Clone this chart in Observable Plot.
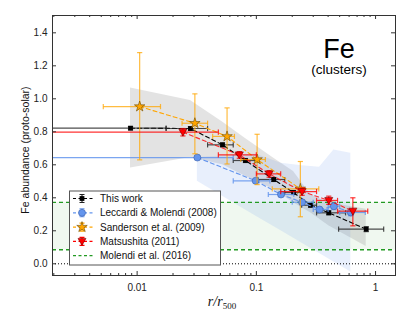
<!DOCTYPE html>
<html><head><meta charset="utf-8">
<script src="https://cdn.jsdelivr.net/npm/d3@7"></script>
<script src="https://cdn.jsdelivr.net/npm/@observablehq/plot@0.6"></script>
<style>body{margin:0;background:#fff;} svg{display:block;}</style>
</head><body><div id="chart"></div>
<script>
// ---- This work ----
const twR    = [0.0088, 0.028, 0.052, 0.081, 0.14, 0.205, 0.285, 0.405, 0.835];
const twFe   = [0.822, 0.820, 0.721, 0.626, 0.511, 0.432, 0.355, 0.309, 0.210];
const twRlo  = [0.0001, 0.0175, 0.039, 0.064, 0.103, 0.173, 0.24, 0.32, 0.49];
const twRhi  = [0.0175, 0.039, 0.064, 0.103, 0.173, 0.24, 0.32, 0.56, 1.17];
const twErr  = [0.01, 0.01, 0.012, 0.012, 0.012, 0.012, 0.012, 0.012, 0.015];
const twBandHi = [1.065, 0.99, 0.86, 0.76, 0.64, 0.56, 0.42, 0.37, 0.33];
const twBandLo = [0.58, 0.645, 0.60, 0.53, 0.45, 0.37, 0.31, 0.23, 0.105];
// ---- Leccardi & Molendi (2008) ----
const lmR   = [0.032, 0.0986, 0.161, 0.242, 0.339, 0.447, 0.62];
const lmFe  = [0.644, 0.503, 0.420, 0.373, 0.329, 0.349, 0.311];
const lmRlo = [0.0001, 0.064, 0.126, 0.20, 0.30, 0.40, 0.50];
const lmRhi = [0.064, 0.13, 0.206, 0.30, 0.40, 0.50, 0.82];
const lmErr = [0.01, 0.012, 0.012, 0.015, 0.015, 0.02, 0.02];
const lmBandHi = [0.645, 0.665, 0.61, 0.595, 0.585, 0.69, 0.67];
const lmBandLo = [0.50, 0.29, 0.20, 0.125, 0.062, 0.011, -0.05];
// ---- Sanderson et al. (2009) ----
const saR   = [0.0105, 0.0305, 0.0568, 0.1015, 0.234];
const saFe  = [0.953, 0.852, 0.772, 0.632, 0.454];
const saRlo = [0.0052, 0.0238, 0.043, 0.074, 0.136];
const saRhi = [0.0157, 0.039, 0.0655, 0.119, 0.334];
const saFelo = [0.63, 0.667, 0.605, 0.48, 0.285];
const saFehi = [1.28, 1.03, 0.945, 0.785, 0.62];
// ---- Matsushita (2011) ----
const maR   = [0.0242, 0.072, 0.128, 0.242, 0.405, 0.645];
const maFe  = [0.798, 0.660, 0.545, 0.438, 0.384, 0.319];
const maRlo = [0.0001, 0.048, 0.10, 0.16, 0.32, 0.48];
const maRhi = [0.048, 0.10, 0.16, 0.32, 0.48, 0.86];
const maFelo = [0.775, 0.64, 0.525, 0.415, 0.36, 0.23];
const maFehi = [0.82, 0.68, 0.565, 0.46, 0.41, 0.40];
// ---- Molendi et al. (2016) ----
const moLevels = [0.085, 0.372];
// ---- axis ticks ----
const xMajor = [0.01, 0.1, 1];
const yTicks = [0, 0.2, 0.4, 0.6, 0.8, 1.0, 1.2, 1.4];
const legendLabels = ["This work", "Leccardi & Molendi (2008)", "Sanderson et al. (2009)", "Matsushita (2011)", "Molendi et al. (2016)"];

const xMinor = [];
for (const d of [0.001, 0.01, 0.1, 1]) for (let k = 2; k <= 9; k++) { const v = +(d * k).toPrecision(3); if (v > 0.00195 && v < 1.47) xMinor.push(v); }

const twData = twR.map((x, i) => ({x, y: twFe[i], lo: twRlo[i], hi: twRhi[i], ylo: twFe[i] - twErr[i], yhi: twFe[i] + twErr[i]}));
const twBand = twR.map((x, i) => ({x, lo: twBandLo[i], hi: twBandHi[i]}));
const lmData = lmR.map((x, i) => ({x, y: lmFe[i], lo: lmRlo[i], hi: lmRhi[i], ylo: lmFe[i] - lmErr[i], yhi: lmFe[i] + lmErr[i]}));
const lmBand = lmR.map((x, i) => ({x, lo: lmBandLo[i], hi: lmBandHi[i]}));
const saData = saR.map((x, i) => ({x, y: saFe[i], lo: saRlo[i], hi: saRhi[i], ylo: saFelo[i], yhi: saFehi[i]}));
const maData = maR.map((x, i) => ({x, y: maFe[i], lo: maRlo[i], hi: maRhi[i], ylo: maFelo[i], yhi: maFehi[i]}));

const rr = s => Math.sqrt(s / Math.PI);
const vcap = {draw(c, s) { const r = rr(s); c.moveTo(0, -r); c.lineTo(0, r); }};
const hcap = {draw(c, s) { const r = rr(s); c.moveTo(-r, 0); c.lineTo(r, 0); }};
const triDown = {draw(c, s) { const r = rr(s); c.moveTo(-r, -0.75 * r); c.lineTo(r, -0.75 * r); c.lineTo(0, r); c.closePath(); }};

function errMarks(data, color, opacity) {
  const o = {stroke: color, strokeOpacity: opacity, strokeWidth: 1.2, clip: true};
  return [
    Plot.link(data, {x1: "lo", x2: "hi", y1: "y", y2: "y", ...o}),
    Plot.link(data, {x1: "x", x2: "x", y1: "ylo", y2: "yhi", ...o}),
    Plot.dot(data, {x: "lo", y: "y", symbol: vcap, r: 2.6, fill: "none", ...o}),
    Plot.dot(data, {x: "hi", y: "y", symbol: vcap, r: 2.6, fill: "none", ...o}),
    Plot.dot(data, {x: "x", y: "ylo", symbol: hcap, r: 2.6, fill: "none", ...o}),
    Plot.dot(data, {x: "x", y: "yhi", symbol: hcap, r: 2.6, fill: "none", ...o})
  ];
}
const dash = "4,3";
const H = 260, W = 343;

const chart = Plot.plot({
  width: 415, height: 313,
  marginLeft: 52, marginRight: 20, marginTop: 15, marginBottom: 38,
  x: {type: "log", domain: [0.00195, 1.47]},
  y: {domain: [-0.071, 1.505]},
  style: {fontFamily: "'Liberation Sans', Arial, sans-serif", fontSize: "10px", background: "white", color: "#222"},
  marks: [
    Plot.rect([0], {y1: moLevels[0], y2: moLevels[1], fill: "#2ca02c", fillOpacity: 0.07}),
    Plot.areaY(twBand, {x: "x", y1: "lo", y2: "hi", fill: "#808080", fillOpacity: 0.22}),
    Plot.areaY(lmBand, {x: "x", y1: "lo", y2: "hi", fill: "#6495ED", fillOpacity: 0.15}),
    Plot.ruleY([0], {stroke: "#000", strokeWidth: 1, strokeDasharray: "1,2"}),
    Plot.ruleY(moLevels, {stroke: "#229a22", strokeWidth: 1.3, strokeDasharray: dash}),
    // This work
    Plot.line(twData, {x: "x", y: "y", stroke: "#000", strokeWidth: 1.1, strokeDasharray: dash}),
    ...errMarks(twData, "#222", 0.8),
    Plot.dot(twData, {x: "x", y: "y", symbol: "square", r: 2.7, fill: "#000"}),
    // Leccardi
    Plot.line(lmData, {x: "x", y: "y", stroke: "#6495ED", strokeWidth: 1.1, strokeDasharray: dash}),
    ...errMarks(lmData, "#6495ED", 0.85),
    Plot.dot(lmData, {x: "x", y: "y", r: 3.5, fill: "#6495ED", stroke: "#3d5fa8", strokeWidth: 0.6}),
    // Sanderson
    Plot.line(saData, {x: "x", y: "y", stroke: "#FFA500", strokeWidth: 1.1, strokeDasharray: dash}),
    ...errMarks(saData, "#FFA500", 0.75),
    Plot.dot(saData, {x: "x", y: "y", symbol: "star", r: 3.3, fill: "#FFA500", stroke: "#6b4a00", strokeWidth: 0.6}),
    // Matsushita
    Plot.line(maData, {x: "x", y: "y", stroke: "#FF0000", strokeOpacity: 0.8, strokeWidth: 1.1, strokeDasharray: dash}),
    ...errMarks(maData, "#FF0000", 0.8),
    Plot.dot(maData, {x: "x", y: "y", symbol: triDown, r: 4, fill: "#FF0000", stroke: "#7a0000", strokeWidth: 0.6}),
    // ticks (inward)
    Plot.tickX(xMajor, {x: d => d, insetTop: H - 4, stroke: "#333"}),
    Plot.tickX(xMajor, {x: d => d, insetBottom: H - 4, stroke: "#333"}),
    Plot.tickX(xMinor, {x: d => d, insetTop: H - 2, stroke: "#333"}),
    Plot.tickX(xMinor, {x: d => d, insetBottom: H - 2, stroke: "#333"}),
    Plot.tickY(yTicks, {y: d => d, insetRight: W - 4, stroke: "#333"}),
    Plot.tickY(yTicks, {y: d => d, insetLeft: W - 4, stroke: "#333"}),
    Plot.axisX(xMajor, {tickSize: 0, tickPadding: 8, tickFormat: d => String(d), label: null, fontSize: 10}),
    Plot.axisY(yTicks, {tickSize: 0, tickPadding: 5, tickFormat: d3.format(".1f"), label: null, fontSize: 10}),
    Plot.frame({stroke: "#333", strokeWidth: 1})
  ]
});
document.getElementById("chart").append(chart);

const svg = d3.select(chart);
const ff = "'Liberation Sans', Arial, sans-serif";
svg.append("text").attr("x", 25).attr("y", 150).attr("transform", "rotate(-90,25,150)")
  .attr("text-anchor", "middle").attr("dy", "0.35em").attr("font-family", ff).attr("font-size", 10.5).attr("fill", "#111")
  .text("Fe abundance (proto-solar)");
const xl = svg.append("text").attr("x", 222).attr("y", 306).attr("text-anchor", "middle")
  .attr("font-family", "'Liberation Serif', 'DejaVu Serif', serif").attr("fill", "#111");
xl.append("tspan").attr("font-style", "italic").attr("font-size", 14).text("r/r");
xl.append("tspan").attr("font-size", 9).attr("dy", 3).text("500");
svg.append("text").attr("x", 339).attr("y", 58).attr("text-anchor", "middle").attr("font-family", ff).attr("font-size", 27).attr("fill", "#000").text("Fe");
svg.append("text").attr("x", 339).attr("y", 74).attr("text-anchor", "middle").attr("font-family", ff).attr("font-size", 13.5).attr("fill", "#000").text("(clusters)");

// legend
const lg = svg.append("g");
lg.append("rect").attr("x", 69.5).attr("y", 191).attr("width", 151).attr("height", 74)
  .attr("fill", "white").attr("stroke", "#555").attr("stroke-width", 1);
const area = r => Math.PI * r * r;
const items = [
  {c: "#000", bar: "#222", path: d3.symbol(d3.symbolSquare, area(2.7))(), fill: "#000", st: "none"},
  {c: "#6495ED", bar: "#6495ED", path: d3.symbol(d3.symbolCircle, area(3.5))(), fill: "#6495ED", st: "#3d5fa8"},
  {c: "#FFA500", bar: "#FFA500", path: d3.symbol(d3.symbolStar, area(3.3))(), fill: "#FFA500", st: "#6b4a00"},
  {c: "#FF0000", bar: "#FF0000", path: "M-4,-3L4,-3L0,4Z", fill: "#FF0000", st: "#7a0000"},
  {c: "#229a22", bar: null}
];
items.forEach((it, i) => {
  const y = 198.5 + i * 14.3;
  const g = lg.append("g");
  g.append("line").attr("x1", 73).attr("x2", 94).attr("y1", y).attr("y2", y)
    .attr("stroke", it.c).attr("stroke-width", 1.2).attr("stroke-dasharray", "3,2.5");
  if (it.bar) {
    const bx = 82;
    g.append("path").attr("d", `M${bx},${y-4}L${bx},${y+4}M${bx-2.5},${y-4}L${bx+2.5},${y-4}M${bx-2.5},${y+4}L${bx+2.5},${y+4}`)
      .attr("stroke", it.bar).attr("stroke-width", 1.1).attr("fill", "none");
    g.append("path").attr("d", it.path).attr("transform", `translate(${bx},${y})`)
      .attr("fill", it.fill).attr("stroke", it.st).attr("stroke-width", 0.6);
  }
  g.append("text").attr("x", 100).attr("y", y).attr("dy", "0.35em").attr("text-anchor", "start").attr("font-family", ff)
    .attr("font-size", 10).attr("fill", "#111").text(legendLabels[i]);
});
</script></body></html>
